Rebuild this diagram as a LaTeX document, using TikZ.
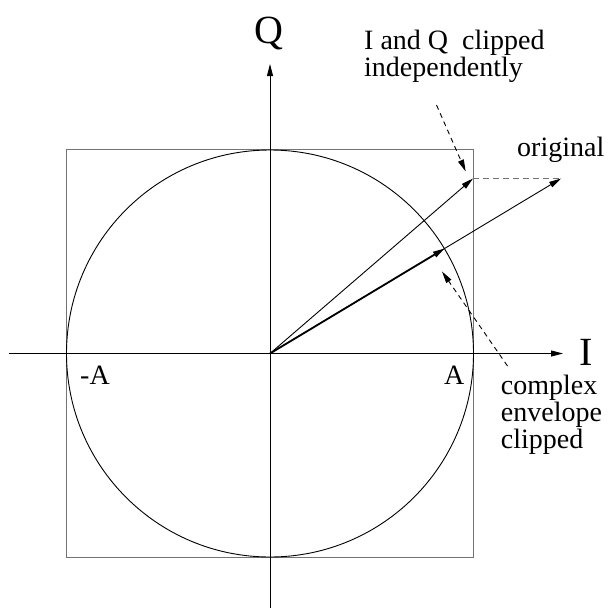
\documentclass[tikz,border=0pt]{standalone}
\usepackage{fontspec}
\setmainfont{Liberation Serif}
\usetikzlibrary{arrows.meta}
\tikzset{
    vec/.style={-{Triangle[length=12pt,width=6pt]}, line width=0.9pt},
    pointer/.style={vec, dash pattern=on 5pt off 4pt},
    frame/.style={line width=1.2pt, black!55},
    lbl/.style={inner sep=0pt, align=left, font=\fontsize{28}{27}\selectfont},
    axislbl/.style={inner sep=0pt, font=\fontsize{40}{40}\selectfont}
}
\begin{document}
\begin{tikzpicture}[x=1pt, y=-1pt]
    \useasboundingbox (0,0) rectangle (608,608);

    % axes and limits
    \coordinate (O) at (270,353.5);
    \coordinate (Iend) at (8.6,353.5);
    \coordinate (Itip) at (563,353.5);
    \coordinate (Qend) at (270,608);
    \coordinate (Qtip) at (270,64);
    \draw[frame] (66.5,149.5) rectangle (473.5,557.5);
    \draw[line width=0.9pt] (O) circle[radius=203.5];
    \draw[vec] (Iend) -- (Itip);
    \draw[vec] (Qend) -- (Qtip);

    \node[axislbl, anchor=base] (Qlbl) at (269.3,43) {Q};
    \node[axislbl, anchor=base west] (Ilbl) at (579,365) {I};
    \node[lbl, anchor=base west] (minusA) at (80,384) {-A};
    \node[lbl, anchor=base west] (plusA) at (444,384) {A};

    % vectors
    \coordinate (orig) at (561,178.5);
    \coordinate (iqclip) at (473,178.5);
    \coordinate (envclip) at (444.8,248.4);
    \draw[vec] (O) -- (orig);
    \draw[vec] (O) -- (iqclip);
    \draw[vec, line width=1.8pt] (O) -- (envclip);
    \draw[frame, line width=1pt, dash pattern=on 6pt off 4pt] (iqclip) -- (orig);

    % labels with pointers
    \node[lbl, anchor=base west] (origlbl) at (517,156) {original};
    \node[lbl, anchor=base west] (iqlbl) at (364,76) {I and Q\ \ clipped\\independently};
    \node[lbl, anchor=base west] (envlbl) at (500.7,448) {complex\\envelope\\clipped};
    \coordinate (iqfrom) at (436.5,105);
    \coordinate (iqto) at (465.7,171.5);
    \coordinate (envfrom) at (507.5,366);
    \coordinate (envto) at (442,271.5);
    \draw[pointer] (iqfrom) -- (iqto);
    \draw[pointer] (envfrom) -- (envto);
\end{tikzpicture}
\end{document}
